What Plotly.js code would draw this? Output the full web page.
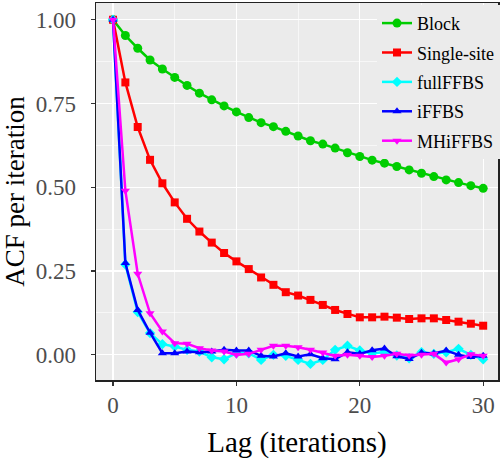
<!DOCTYPE html>
<html>
<head>
<meta charset="utf-8">
<script src="https://cdn.plot.ly/plotly-3.0.1.min.js"></script>
<style>html,body{margin:0;padding:0;background:#fff;}#chart{width:503px;height:459px;}</style>
</head>
<body>
<div id="chart"></div>
<script>
const lags = Array.from({length: 31}, (_, i) => i);
const seriesNames = ["Block", "Single-site", "fullFFBS", "iFFBS", "MHiFFBS"];
const block = [1.0,0.953,0.915,0.88,0.853,0.828,0.804,0.781,0.761,0.743,0.725,0.708,0.693,0.681,0.667,0.653,0.639,0.629,0.617,0.603,0.592,0.581,0.572,0.562,0.552,0.542,0.532,0.522,0.514,0.505,0.497];
const singleSite = [1.0,0.813,0.68,0.582,0.512,0.455,0.406,0.368,0.335,0.304,0.279,0.256,0.231,0.209,0.187,0.177,0.164,0.149,0.134,0.122,0.112,0.112,0.114,0.111,0.107,0.109,0.109,0.104,0.099,0.093,0.087];
const fullFFBS = [1.0,0.27,0.128,0.065,0.032,0.025,0.015,0.01,-0.007,-0.013,0.005,0.005,-0.015,0.0,-0.003,-0.015,-0.027,-0.015,0.015,0.027,0.013,0.005,0.008,-0.002,-0.01,0.008,0.003,0.008,0.018,0.0,-0.013];
const iFFBS = [1.0,0.274,0.134,0.066,0.005,0.005,0.01,0.008,0.01,0.015,0.013,0.013,-0.003,-0.005,0.005,-0.005,0.002,-0.01,-0.013,0.008,0.003,0.014,0.019,-0.004,-0.012,0.006,0.004,0.013,0.0,-0.006,-0.003];
const mhiFFBS = [1.0,0.49,0.242,0.124,0.07,0.035,0.033,0.02,0.013,0.01,0.0,0.003,0.015,0.027,0.027,0.023,0.015,0.007,-0.003,0.0,-0.003,-0.006,-0.003,0.003,-0.002,0.0,0.003,-0.023,-0.013,0.002,-0.003];
const xTicks = [0, 10, 20, 30];
const yTicks = [0, 0.25, 0.5, 0.75, 1.0];
const yTickLabels = ["0.00", "0.25", "0.50", "0.75", "1.00"];

const colors = ["#00CD00", "#FF0000", "#00FFFF", "#0000FF", "#FF00FF"];
const symbols = ["circle", "square", "diamond", "triangle-up", "triangle-down"];
const values = [block, singleSite, fullFFBS, iFFBS, mhiFFBS];

const traces = values.map((v, i) => ({
  x: lags, y: v, name: seriesNames[i], type: "scatter", mode: "lines+markers",
  legendgroup: "g" + i,
  line: {color: colors[i], width: 2.5},
  marker: {color: colors[i], symbol: symbols[i], size: i === 0 ? 9 : 8}
}));

const font = "Liberation Serif";
const layout = {
  width: 503, height: 459,
  margin: {l: 96, r: 5, t: 3, b: 79},
  paper_bgcolor: "#ffffff",
  plot_bgcolor: "#EBEBEB",
  font: {family: font, color: "#000"},
  showlegend: true,
  legend: {
    x: 0.699, y: 0.995, xanchor: "left", yanchor: "top",
    bgcolor: "#EBEBEB", borderwidth: 0,
    font: {family: font, size: 18, color: "#000"},
    itemwidth: 30,
    traceorder: "grouped", tracegroupgap: 3
  },
  xaxis: {
    range: [-1.38, 31.2], tickvals: xTicks, ticktext: xTicks.map(String),
    showgrid: true, gridcolor: "#ffffff", gridwidth: 1.2,
    minor: {dtick: 5, tick0: 0, showgrid: true, gridcolor: "#ffffff", gridwidth: 0.6},
    zeroline: false, showline: true, mirror: true, linecolor: "#222", linewidth: 1.5,
    ticks: "outside", ticklen: 4, tickcolor: "#333", tickwidth: 1.2,
    tickfont: {family: font, size: 23, color: "#4D4D4D"},
    title: {text: "Lag (iterations)", font: {family: font, size: 29, color: "#000"}, standoff: 15}
  },
  yaxis: {
    range: [-0.075, 1.05], tickvals: yTicks, ticktext: yTickLabels,
    showgrid: true, gridcolor: "#ffffff", gridwidth: 1.2,
    minor: {dtick: 0.125, tick0: 0, showgrid: true, gridcolor: "#ffffff", gridwidth: 0.6},
    zeroline: false, showline: true, mirror: true, linecolor: "#222", linewidth: 1.5,
    ticks: "outside", ticklen: 4, tickcolor: "#333", tickwidth: 1.2,
    ticklabelstandoff: 10,
    tickfont: {family: font, size: 23, color: "#4D4D4D"},
    title: {text: "ACF per iteration", font: {family: font, size: 27, color: "#000"}, standoff: 8}
  }
};

Plotly.newPlot("chart", traces, layout, {displayModeBar: false, staticPlot: true});
</script>
</body>
</html>
